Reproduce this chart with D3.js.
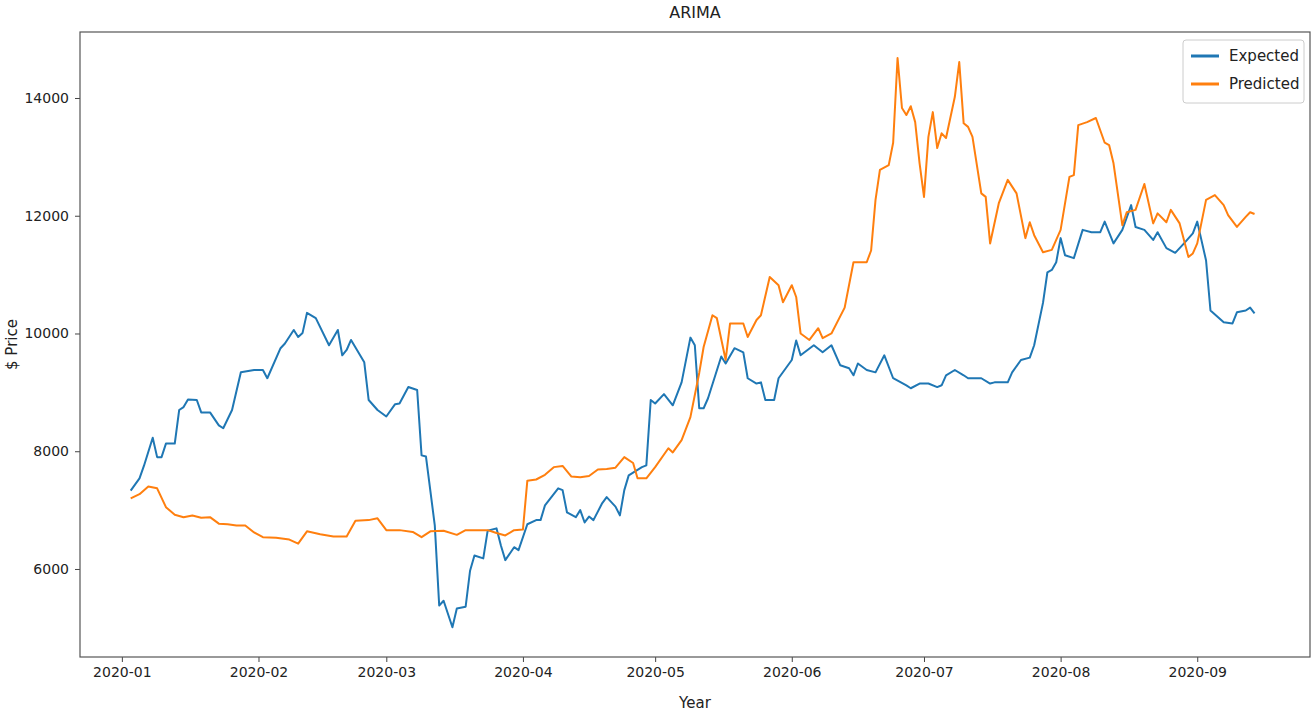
<!DOCTYPE html>
<html><head><meta charset="utf-8">
<script src="https://cdn.jsdelivr.net/npm/d3@7"></script>
<style>body{margin:0;background:#fff}text{font-family:"DejaVu Sans",sans-serif}</style>
</head><body>
<svg id="c" width="1315" height="713"></svg>
<script>
const title = "ARIMA";
const xLabel = "Year";
const yLabel = "$ Price";
const seriesNames = ["Expected", "Predicted"];
const xTickLabels = ["2020-01","2020-02","2020-03","2020-04","2020-05","2020-06","2020-07","2020-08","2020-09"];
const yTickValues = [6000, 8000, 10000, 12000, 14000];

const expected = [
["2020-01-03",7330],["2020-01-05",7540],["2020-01-06",7750],["2020-01-08",8230],["2020-01-09",7900],["2020-01-10",7900],["2020-01-11",8130],["2020-01-13",8130],["2020-01-14",8700],["2020-01-15",8750],["2020-01-16",8880],["2020-01-18",8870],["2020-01-19",8660],["2020-01-21",8660],["2020-01-23",8440],["2020-01-24",8390],["2020-01-26",8700],["2020-01-28",9340],["2020-01-31",9380],["2020-02-02",9380],["2020-02-03",9240],["2020-02-06",9750],["2020-02-07",9830],["2020-02-09",10060],["2020-02-10",9940],["2020-02-11",10010],["2020-02-12",10350],["2020-02-14",10260],["2020-02-17",9800],["2020-02-19",10060],["2020-02-20",9630],["2020-02-21",9720],["2020-02-22",9890],["2020-02-25",9510],["2020-02-26",8870],["2020-02-28",8700],["2020-03-01",8590],["2020-03-03",8800],["2020-03-04",8810],["2020-03-06",9090],["2020-03-08",9040],["2020-03-09",7930],["2020-03-10",7910],["2020-03-12",6740],["2020-03-13",5380],["2020-03-14",5460],["2020-03-16",5010],["2020-03-17",5330],["2020-03-19",5360],["2020-03-20",5970],["2020-03-21",6230],["2020-03-23",6180],["2020-03-24",6650],["2020-03-26",6690],["2020-03-27",6400],["2020-03-28",6150],["2020-03-30",6370],["2020-03-31",6320],["2020-04-02",6760],["2020-04-04",6830],["2020-04-05",6830],["2020-04-06",7080],["2020-04-09",7370],["2020-04-10",7340],["2020-04-11",6960],["2020-04-13",6880],["2020-04-14",7000],["2020-04-15",6790],["2020-04-16",6890],["2020-04-17",6830],["2020-04-19",7120],["2020-04-20",7220],["2020-04-22",7060],["2020-04-23",6910],["2020-04-24",7340],["2020-04-25",7590],["2020-04-28",7730],["2020-04-29",7760],["2020-04-30",8870],["2020-05-01",8810],["2020-05-03",8970],["2020-05-05",8780],["2020-05-07",9170],["2020-05-09",9930],["2020-05-10",9800],["2020-05-11",8730],["2020-05-12",8730],["2020-05-13",8900],["2020-05-16",9610],["2020-05-17",9490],["2020-05-19",9750],["2020-05-21",9680],["2020-05-22",9240],["2020-05-24",9150],["2020-05-25",9170],["2020-05-26",8870],["2020-05-28",8870],["2020-05-29",9240],["2020-06-01",9550],["2020-06-02",9880],["2020-06-03",9630],["2020-06-06",9800],["2020-06-08",9680],["2020-06-10",9800],["2020-06-12",9460],["2020-06-14",9410],["2020-06-15",9290],["2020-06-16",9490],["2020-06-18",9380],["2020-06-20",9340],["2020-06-22",9630],["2020-06-24",9240],["2020-06-27",9120],["2020-06-28",9070],["2020-06-30",9150],["2020-07-02",9150],["2020-07-04",9090],["2020-07-05",9120],["2020-07-06",9290],["2020-07-08",9380],["2020-07-10",9290],["2020-07-11",9240],["2020-07-13",9240],["2020-07-14",9240],["2020-07-16",9150],["2020-07-17",9170],["2020-07-20",9170],["2020-07-21",9340],["2020-07-23",9550],["2020-07-25",9590],["2020-07-26",9800],["2020-07-28",10520],["2020-07-29",11040],["2020-07-30",11080],["2020-07-31",11210],["2020-08-01",11620],["2020-08-02",11330],["2020-08-04",11280],["2020-08-06",11760],["2020-08-08",11720],["2020-08-10",11720],["2020-08-11",11900],["2020-08-13",11530],["2020-08-15",11760],["2020-08-17",12180],["2020-08-18",11810],["2020-08-20",11760],["2020-08-22",11590],["2020-08-23",11720],["2020-08-25",11450],["2020-08-27",11370],["2020-08-29",11530],["2020-08-31",11700],["2020-09-01",11900],["2020-09-03",11240],["2020-09-04",10390],["2020-09-07",10190],["2020-09-09",10170],["2020-09-10",10360],["2020-09-12",10390],["2020-09-13",10440],["2020-09-14",10340]
];

const predicted = [
["2020-01-03",7200],["2020-01-05",7270],["2020-01-07",7400],["2020-01-09",7370],["2020-01-11",7050],["2020-01-13",6920],["2020-01-15",6880],["2020-01-17",6910],["2020-01-19",6870],["2020-01-21",6880],["2020-01-23",6770],["2020-01-25",6760],["2020-01-27",6740],["2020-01-29",6740],["2020-01-31",6620],["2020-02-02",6540],["2020-02-05",6530],["2020-02-08",6500],["2020-02-10",6430],["2020-02-12",6640],["2020-02-15",6590],["2020-02-18",6550],["2020-02-21",6550],["2020-02-23",6820],["2020-02-26",6830],["2020-02-28",6860],["2020-03-01",6660],["2020-03-04",6660],["2020-03-07",6630],["2020-03-09",6540],["2020-03-11",6640],["2020-03-14",6650],["2020-03-17",6580],["2020-03-19",6660],["2020-03-21",6660],["2020-03-24",6660],["2020-03-26",6610],["2020-03-28",6570],["2020-03-30",6660],["2020-04-01",6670],["2020-04-02",7500],["2020-04-04",7520],["2020-04-06",7600],["2020-04-08",7730],["2020-04-10",7750],["2020-04-12",7570],["2020-04-14",7560],["2020-04-16",7580],["2020-04-18",7690],["2020-04-20",7700],["2020-04-22",7720],["2020-04-24",7900],["2020-04-26",7800],["2020-04-27",7540],["2020-04-29",7540],["2020-05-01",7730],["2020-05-04",8050],["2020-05-05",7980],["2020-05-07",8190],["2020-05-09",8580],["2020-05-11",9330],["2020-05-12",9770],["2020-05-14",10310],["2020-05-15",10260],["2020-05-17",9550],["2020-05-18",10170],["2020-05-21",10170],["2020-05-22",9940],["2020-05-24",10230],["2020-05-25",10310],["2020-05-27",10960],["2020-05-29",10820],["2020-05-30",10530],["2020-06-01",10820],["2020-06-02",10620],["2020-06-03",10000],["2020-06-05",9890],["2020-06-07",10090],["2020-06-08",9920],["2020-06-10",10000],["2020-06-13",10440],["2020-06-15",11210],["2020-06-18",11210],["2020-06-19",11410],["2020-06-20",12270],["2020-06-21",12780],["2020-06-23",12860],["2020-06-24",13240],["2020-06-25",14680],["2020-06-26",13830],["2020-06-27",13710],["2020-06-28",13860],["2020-06-29",13590],["2020-06-30",12890],["2020-07-01",12320],["2020-07-02",13340],["2020-07-03",13760],["2020-07-04",13150],["2020-07-05",13400],["2020-07-06",13320],["2020-07-08",14020],["2020-07-09",14610],["2020-07-10",13570],["2020-07-11",13510],["2020-07-12",13340],["2020-07-14",12380],["2020-07-15",12320],["2020-07-16",11530],["2020-07-18",12220],["2020-07-20",12610],["2020-07-22",12380],["2020-07-24",11620],["2020-07-25",11890],["2020-07-26",11670],["2020-07-28",11380],["2020-07-30",11420],["2020-08-01",11760],["2020-08-03",12660],["2020-08-04",12690],["2020-08-05",13540],["2020-08-07",13590],["2020-08-09",13660],["2020-08-11",13240],["2020-08-12",13200],["2020-08-13",12890],["2020-08-15",11840],["2020-08-16",12060],["2020-08-18",12100],["2020-08-20",12540],["2020-08-22",11870],["2020-08-23",12040],["2020-08-25",11890],["2020-08-26",12100],["2020-08-28",11870],["2020-08-30",11300],["2020-08-31",11360],["2020-09-01",11530],["2020-09-03",12270],["2020-09-05",12350],["2020-09-07",12180],["2020-09-08",12010],["2020-09-10",11810],["2020-09-12",11980],["2020-09-13",12060],["2020-09-14",12030]
];

const colors = ["#1f77b4", "#ff7f0e"];
const svg = d3.select("#c");
const L = 80, R = 1310, T = 32, B = 657;
const parse = d3.utcParse("%Y-%m-%d");
const x = d3.scaleUtc().domain([new Date(Date.UTC(2019,11,22,12)), new Date(Date.UTC(2020,8,26,14))]).range([L, R]);
const y = d3.scaleLinear().domain([4505, 15121]).range([B, T]);

const xAxis = d3.axisBottom(x).tickValues(xTickLabels.map(s => parse(s + "-01"))).tickFormat(d3.utcFormat("%Y-%m")).tickSizeOuter(0).tickSize(5).tickPadding(5);
const gx = svg.append("g").attr("transform", `translate(0,${B})`).call(xAxis);
const yAxis = d3.axisLeft(y).tickValues(yTickValues).tickFormat(d3.format("d")).tickSizeOuter(0).tickSize(5).tickPadding(6);
const gy = svg.append("g").attr("transform", `translate(${L},0)`).call(yAxis);
[gx, gy].forEach(g => { g.select(".domain").remove(); g.selectAll("text").attr("font-size", 14).attr("fill", "#222"); g.selectAll("line").attr("stroke", "#444"); });

const line = d3.line().x(d => x(parse(d[0]))).y(d => y(d[1]));
[expected, predicted].forEach((s, i) => {
  svg.append("path").datum(s).attr("d", line).attr("fill", "none").attr("stroke", colors[i]).attr("stroke-width", 2).attr("stroke-linejoin", "round");
});

svg.append("rect").attr("x", L).attr("y", T).attr("width", R - L).attr("height", B - T).attr("fill", "none").attr("stroke", "#555").attr("stroke-width", 1.2);

svg.append("text").attr("x", (L + R) / 2).attr("y", 18).attr("text-anchor", "middle").attr("font-size", 16).attr("fill", "#222").text(title);
svg.append("text").attr("x", (L + R) / 2).attr("y", 708).attr("text-anchor", "middle").attr("font-size", 15).attr("fill", "#222").text(xLabel);
svg.append("text").attr("transform", `translate(17,${(T + B) / 2}) rotate(-90)`).attr("text-anchor", "middle").attr("font-size", 15).attr("fill", "#222").text(yLabel);

const lg = svg.append("g").attr("transform", "translate(1183,40)");
lg.append("rect").attr("width", 121).attr("height", 63).attr("rx", 3).attr("fill", "#fff").attr("stroke", "#ccc");
seriesNames.forEach((n, i) => {
  lg.append("line").attr("x1", 8).attr("x2", 36).attr("y1", 16 + i * 28).attr("y2", 16 + i * 28).attr("stroke", colors[i]).attr("stroke-width", 3);
  lg.append("text").attr("x", 46).attr("y", 21 + i * 28).attr("font-size", 15).attr("fill", "#222").text(n);
});
</script>
</body></html>
